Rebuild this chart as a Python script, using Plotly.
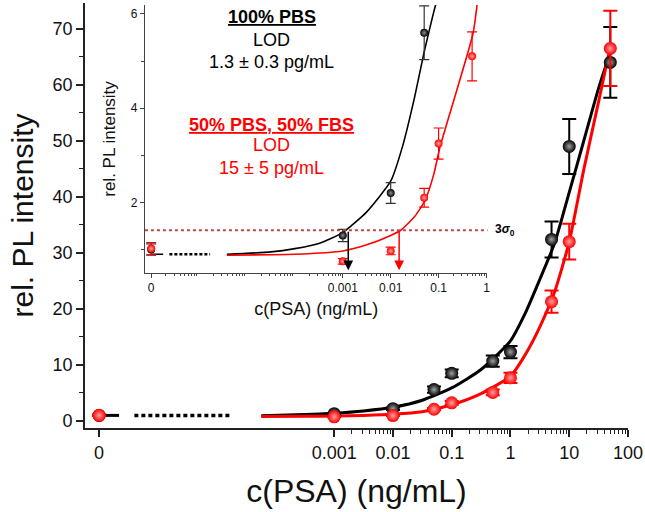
import math
import plotly.graph_objects as go

# concentrations (ng/mL); 0 is drawn at the break position on the log axis
conc = [0, 0.001, 0.01, 0.05, 0.1, 0.5, 1, 5, 10, 50]
zero_pos = 1e-7

# 100% PBS (black)
pbs_mean = [1.0, 1.3, 2.2, 5.6, 8.5, 10.7, 12.3, 32.4, 49.0, 64.0]
pbs_err = [0.12, 0.13, 0.22, 0.57, 0.7, 1.0, 1.1, 3.2, 4.9, 6.3]

# 50% PBS, 50% FBS (red)
fbs_mean = [1.02, 0.75, 0.97, 2.1, 3.25, 5.1, 7.7, 21.3, 32.0, 66.5]
fbs_err = [0.13, 0.06, 0.08, 0.2, 0.33, 0.52, 0.9, 2.0, 3.2, 6.7]

# fitted curves (log10 of conc)
fit_logx_main = [-4.24, -3.5, -3, -2.5, -2, -1.5, -1, -0.5, 0, 0.25, 0.5, 0.75, 1, 1.25, 1.5, 1.69]
fit_pbs_main = [0.95, 1.15, 1.4, 1.8, 2.45, 3.7, 5.9, 9.2, 14.3, 19.2, 25.3, 31.7, 40.8, 50.1, 59.4, 65.5]
fit_fbs_main = [0.8, 0.83, 0.88, 1.0, 1.2, 1.65, 2.9, 4.9, 8.0, 11.8, 16.8, 23.0, 32.0, 45.0, 57.0, 66.4]

# fitted curves
fit_logx_pbs_inset = [-5.42, -4.5, -4, -3.5, -3, -2.5, -2, -1.75, -1.5, -1.3, -1.1, -0.95]
fit_pbs_inset = [0.9, 0.95, 1.02, 1.13, 1.36, 1.8, 2.45, 3.2, 4.24, 5.2, 6.05, 6.6]
fit_logx_fbs_inset = [-5.42, -4.5, -4, -3, -2.5, -2, -1.79, -1.5, -1.28, -1.1, -0.97, -0.6, -0.28, -0.15]
fit_fbs_inset = [0.88, 0.89, 0.9, 0.97, 1.1, 1.3, 1.41, 1.7, 2.05, 2.6, 3.18, 4.45, 5.59, 6.6]

three_sigma = 1.41
lod_pbs = 0.0013
lod_fbs = 0.015

main_ticks = [zero_pos, 0.001, 0.01, 0.1, 1, 10, 100]
main_ticktext = ['0', '0.001', '0.01', '0.1', '1', '10', '100']
inset_ticks = [zero_pos, 0.001, 0.01, 0.1, 1]
inset_ticktext = ['0', '0.001', '0.01', '0.1', '1']

BLACK = '#000000'
RED = '#ff0000'
FONT = 'Arial, Liberation Sans, sans-serif'

xs = [c if c > 0 else zero_pos for c in conc]


def minor_vals(lo, hi):
    return [m * 10 ** k for k in range(lo, hi) for m in range(2, 10)]


fig = go.Figure()

# ---- main panel ----
for logs, ys, col in [(fit_logx_main, fit_pbs_main, BLACK), (fit_logx_main, fit_fbs_main, RED)]:
    fig.add_trace(go.Scatter(x=[10 ** v for v in logs], y=ys, mode='lines',
                             line=dict(color=col, width=3, shape='spline', smoothing=0.6),
                             xaxis='x', yaxis='y', hoverinfo='skip'))

# axis break at the zero point
fig.add_trace(go.Scatter(x=[zero_pos, 10 ** -6.66], y=[1.0, 1.0], mode='lines',
                         line=dict(color=BLACK, width=3), xaxis='x', yaxis='y'))
fig.add_trace(go.Scatter(x=[10 ** -6.40, 10 ** -4.74], y=[1.0, 1.0], mode='lines',
                         line=dict(color=BLACK, width=3.5, dash='4px,3px'), xaxis='x', yaxis='y'))

for ys, err, col, grad in [(pbs_mean, pbs_err, BLACK, '#a0a0a0'), (fbs_mean, fbs_err, RED, '#ffa0a0')]:
    fig.add_trace(go.Scatter(x=xs, y=ys, mode='markers',
                             marker=dict(size=13, color=col, gradient=dict(type='radial', color=grad)),
                             error_y=dict(type='data', array=err, color=col, thickness=2, width=7),
                             xaxis='x', yaxis='y'))

# ---- inset ----
for logs, ys, col in [(fit_logx_pbs_inset, fit_pbs_inset, BLACK), (fit_logx_fbs_inset, fit_fbs_inset, RED)]:
    fig.add_trace(go.Scatter(x=[10 ** v for v in logs], y=ys, mode='lines',
                             line=dict(color=col, width=1.6, shape='spline', smoothing=0.5),
                             xaxis='x2', yaxis='y2'))

fig.add_trace(go.Scatter(x=[zero_pos, 10 ** -6.75], y=[0.9, 0.9], mode='lines',
                         line=dict(color=BLACK, width=1.6), xaxis='x2', yaxis='y2'))
fig.add_trace(go.Scatter(x=[10 ** -6.62, 10 ** -5.77], y=[0.9, 0.9], mode='lines',
                         line=dict(color=BLACK, width=2.5, dash='3px,2px'), xaxis='x2', yaxis='y2'))

for ys, err, col, grad, ecol in [(pbs_mean, pbs_err, BLACK, '#909090', '#333333'),
                                 (fbs_mean, fbs_err, RED, '#ffa0a0', RED)]:
    fig.add_trace(go.Scatter(x=xs, y=ys, mode='markers',
                             marker=dict(size=8, color=col, gradient=dict(type='radial', color=grad)),
                             error_y=dict(type='data', array=err, color=ecol, thickness=1.2, width=5),
                             xaxis='x2', yaxis='y2'))

fig.add_shape(type='line', xref='x2 domain', yref='y2', x0=0, x1=1,
              y0=three_sigma, y1=three_sigma, line=dict(color='#c04848', width=2, dash='dot'))

for lod, col in [(lod_pbs, BLACK), (lod_fbs, RED)]:
    fig.add_annotation(x=math.log10(lod), y=0.56, ax=math.log10(lod), ay=three_sigma,
                       xref='x2', yref='y2', axref='x2', ayref='y2', text='',
                       showarrow=True, arrowhead=2, arrowsize=1.3, arrowwidth=1.5, arrowcolor=col)

fig.add_annotation(xref='x2 domain', yref='y2', x=1.015, y=three_sigma, xanchor='left',
                   yanchor='middle', text='<b>3<i>σ</i><sub>0</sub></b>', showarrow=False,
                   font=dict(family=FONT, size=12, color=BLACK))

inset_text = [
    ('<b><u>100% PBS</u></b>', 0.967, BLACK),
    ('LOD', 0.913, BLACK),
    ('1.3 ± 0.3 pg/mL', 0.861, BLACK),
    ('<b><u>50% PBS, 50% FBS</u></b>', 0.713, RED),
    ('LOD', 0.666, RED),
    ('15 ± 5 pg/mL', 0.611, RED),
]
for txt, yp, col in inset_text:
    fig.add_annotation(xref='paper', yref='paper', x=0.344, y=yp, text=txt, showarrow=False,
                       xanchor='center', yanchor='middle',
                       font=dict(family=FONT, size=18, color=col))

axis_main = dict(showline=True, linecolor='#222', linewidth=1.8, ticks='outside', ticklen=7,
                 tickwidth=1.5, tickcolor='#222', showgrid=False, zeroline=False,
                 tickfont=dict(family=FONT, size=18, color='#111'))
axis_inset = dict(showline=True, linecolor='#444', linewidth=1.2, ticks='outside', ticklen=4,
                  tickwidth=1, tickcolor='#444', showgrid=False, zeroline=False,
                  tickfont=dict(family=FONT, size=12, color='#111'))

fig.update_layout(
    width=645, height=512,
    margin=dict(l=85, r=17, t=3, b=84),
    paper_bgcolor='white', plot_bgcolor='white',
    showlegend=False,
    font=dict(family=FONT, color='#111'),
    xaxis=dict(axis_main, type='log', range=[-7.24, 2.0], tickmode='array',
               tickvals=main_ticks, ticktext=main_ticktext,
               minor=dict(tickmode='array', tickvals=minor_vals(-3, 2), ticks='outside',
                          ticklen=4, tickwidth=1.2, tickcolor='#222'),
               title=dict(text='c(PSA) (ng/mL)', font=dict(family=FONT, size=32, color='#111'),
                          standoff=18)),
    yaxis=dict(axis_main, range=[-1.25, 74.6], tickmode='array',
               tickvals=[0, 10, 20, 30, 40, 50, 60, 70],
               minor=dict(tickmode='array', tickvals=[5, 15, 25, 35, 45, 55, 65], ticks='outside',
                          ticklen=4, tickwidth=1.2, tickcolor='#222'),
               title=dict(text='rel. PL intensity', font=dict(family=FONT, size=30, color='#111'),
                          standoff=10)),
    xaxis2=dict(axis_inset, type='log', range=[-7.13, 0.02], domain=[0.1104, 0.7412], anchor='y2',
                tickmode='array', tickvals=inset_ticks, ticktext=inset_ticktext,
                minor=dict(tickmode='array', tickvals=minor_vals(-7, 0), ticks='outside',
                           ticklen=2, tickwidth=0.8, tickcolor='#444'),
                title=dict(text='c(PSA) (ng/mL)', font=dict(family=FONT, size=18, color='#111'),
                           standoff=8)),
    yaxis2=dict(axis_inset, range=[0.505, 6.19], domain=[0.365, 0.9953], anchor='x2',
                tickmode='array', tickvals=[2, 4, 6],
                minor=dict(tickmode='array', tickvals=[1, 3, 5], ticks='outside',
                           ticklen=3, tickwidth=0.8, tickcolor='#444'),
                title=dict(text='rel. PL intensity', font=dict(family=FONT, size=17, color='#111'),
                           standoff=10)),
)

fig.write_html("out.html", config={'displayModeBar': False},
               post_script="document.body.style.margin='0';")
